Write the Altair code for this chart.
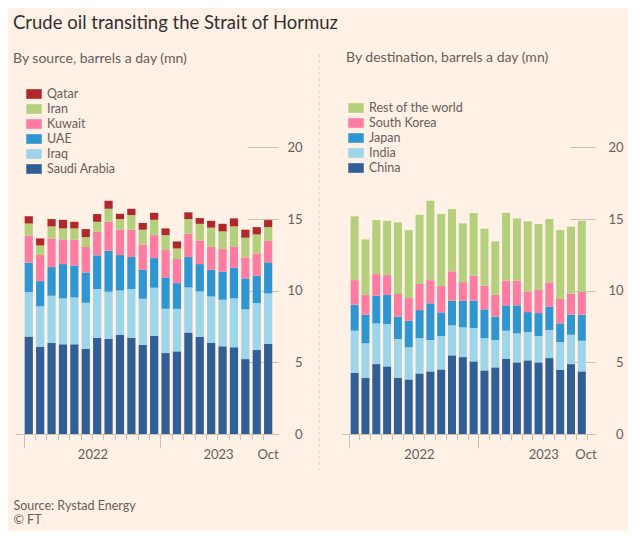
import altair as alt
import pandas as pd

months = ["Jan 2022", "Feb 2022", "Mar 2022", "Apr 2022", "May 2022", "Jun 2022",
          "Jul 2022", "Aug 2022", "Sep 2022", "Oct 2022", "Nov 2022", "Dec 2022",
          "Jan 2023", "Feb 2023", "Mar 2023", "Apr 2023", "May 2023", "Jun 2023",
          "Jul 2023", "Aug 2023", "Sep 2023", "Oct 2023"]

# By source (mn barrels a day)
saudi = [6.8, 6.07, 6.35, 6.26, 6.26, 5.93, 6.7, 6.63, 6.91, 6.72, 6.21, 6.84,
         5.65, 5.77, 7.09, 6.77, 6.35, 6.12, 6.05, 5.23, 5.86, 6.28]
iraq = [3.1, 2.84, 3.3, 3.21, 3.27, 3.23, 3.42, 3.3, 3.11, 3.4, 3.23, 3.37,
        3.09, 2.97, 3.14, 3.18, 3.25, 3.25, 3.42, 3.47, 3.28, 3.53]
uae = [2.07, 1.76, 2.0, 2.39, 2.21, 2.12, 2.35, 2.86, 2.47, 2.23, 2.03, 2.07,
       2.19, 1.79, 2.12, 1.91, 1.87, 1.96, 2.13, 2.16, 1.91, 2.17]
kuwait = [1.88, 1.82, 2.0, 1.72, 1.82, 1.77, 1.65, 2.02, 1.77, 1.91, 1.76, 1.6,
          1.91, 1.68, 1.63, 1.65, 1.58, 1.58, 1.49, 1.47, 1.55, 1.49]
iran = [0.84, 0.67, 0.84, 0.77, 0.79, 0.69, 0.69, 0.91, 0.74, 1.02, 1.03, 1.07,
        1.04, 0.74, 1.02, 1.16, 1.35, 1.23, 1.4, 1.37, 1.33, 0.97]
qatar = [0.51, 0.49, 0.51, 0.6, 0.46, 0.56, 0.54, 0.56, 0.37, 0.44, 0.46, 0.49,
         0.47, 0.49, 0.47, 0.4, 0.48, 0.53, 0.56, 0.56, 0.51, 0.49]

# By destination (mn barrels a day)
china = [4.26, 3.91, 4.88, 4.72, 3.91, 3.81, 4.23, 4.37, 4.51, 5.49, 5.37, 5.07,
         4.44, 4.65, 5.26, 5.0, 5.14, 5.0, 5.3, 4.47, 4.88, 4.37]
india = [2.95, 2.42, 2.84, 2.95, 2.72, 2.24, 2.47, 2.19, 2.33, 2.09, 2.07, 2.33,
         2.26, 1.91, 1.95, 2.02, 1.98, 1.84, 1.96, 1.95, 2.05, 2.14]
japan = [1.81, 2.0, 1.93, 2.03, 1.56, 1.86, 1.95, 2.56, 1.65, 1.72, 1.86, 1.9,
         2.0, 1.63, 1.77, 1.96, 1.39, 1.6, 1.62, 1.3, 1.4, 1.82]
skorea = [1.72, 1.37, 1.51, 1.39, 1.58, 1.58, 1.82, 1.62, 1.84, 2.05, 1.3, 1.75,
          1.65, 1.53, 1.72, 1.72, 1.44, 1.61, 1.7, 1.7, 1.48, 1.58]
rest = [4.45, 3.88, 3.77, 3.79, 5.0, 4.74, 4.83, 5.54, 5.02, 4.35, 4.1, 4.37,
        3.98, 3.72, 4.74, 4.35, 4.89, 4.6, 4.42, 4.81, 4.66, 4.97]

src_names = ["Saudi Arabia", "Iraq", "UAE", "Kuwait", "Iran", "Qatar"]
src_values = [saudi, iraq, uae, kuwait, iran, qatar]
dst_names = ["China", "India", "Japan", "South Korea", "Rest of the world"]
dst_values = [china, india, japan, skorea, rest]

y_ticks = [0, 5, 10, 15, 20]

src_colors = ["#2f5f95", "#9dd5ea", "#2e96d2", "#fe7ba2", "#b5d07d", "#b0282c"]
dst_colors = ["#2f5f95", "#9dd5ea", "#2e96d2", "#fe7ba2", "#b5d07d"]

BG = "#fff1e5"
GRAY = "#66605c"
TICK = "#ccc1b7"
FONT = "Lato"


def long_df(names, values):
    rows = []
    for k, (name, vals) in enumerate(zip(names, values)):
        for i, v in enumerate(vals):
            rows.append({"i": i, "month": months[i], "series": name,
                         "value": v, "order": k})
    return pd.DataFrame(rows)


def panel(df, names, colors, width, xdom, off, n_ticks, labels, loffsets,
          title, title_dx, legend_x, legend_y, y_off, y_tick, y_pad,
          x_title=None, divider=None):
    label_expr = " : ".join(
        f"datum.value == {v} ? '{t}'" for v, t in labels) + " : ''"
    x_axis = dict(
        orient="bottom", offset=-36, values=list(range(n_ticks)),
        tickSize={"condition": {"test": "datum.value == 0 || datum.value == 12",
                                "value": 14}, "value": 6},
        labelExpr=label_expr,
        labelOffset={"condition": [{"test": f"datum.value == {v}", "value": o}
                                   for v, o in loffsets], "value": 0},
        labelOverlap=False, labelFlush=False,
        domainColor=TICK, tickColor=TICK, labelColor=GRAY,
        labelFont=FONT, labelFontSize=13, labelPadding=8, grid=False,
    )
    if x_title is not None:
        x_axis.update(title=x_title, titleX=-3, titleY=75, titleAlign="left",
                      titleAnchor="start", titleBaseline="alphabetic",
                      titleFont=FONT, titleFontSize=12.5, titleColor=GRAY,
                      titleFontWeight="normal", titleLineHeight=14)
    else:
        x_axis["title"] = None

    bars = alt.Chart(df).transform_stack(
        stack="value", groupby=["i"], as_=["y0", "y1"],
        sort=[alt.SortField("order", order="ascending")]
    ).transform_calculate(
        x0=f"datum.i + {off[0]}", x1=f"datum.i + {off[1]}"
    ).mark_bar().encode(
        x=alt.X("x0:Q", scale=alt.Scale(domain=xdom, nice=False, zero=False),
                axis=alt.Axis(**x_axis)),
        x2="x1:Q",
        y=alt.Y("y0:Q", scale=alt.Scale(domain=[-2.51, 26.45], nice=False, zero=False),
                axis=alt.Axis(orient="right", values=y_ticks, offset=y_off,
                              tickSize=y_tick, tickColor=TICK, domain=False,
                              grid=False, labelAlign="right", labelPadding=y_pad,
                              labelColor=GRAY, labelFont=FONT, labelFontSize=13,
                              labelBaseline="middle", title=None)),
        y2="y1:Q",
        color=alt.Color("series:N",
                        scale=alt.Scale(domain=names[::-1], range=colors[::-1]),
                        legend=alt.Legend(orient="none", legendX=legend_x,
                                          legendY=legend_y, title=None,
                                          symbolType="M-1,-0.62H1V0.62H-1Z",
                                          symbolSize=240, symbolStrokeWidth=0,
                                          symbolOpacity=1, rowPadding=0,
                                          labelOffset=5, padding=0,
                                          labelFont=FONT, labelFontSize=12.5,
                                          labelColor=GRAY)),
        tooltip=["month:N", "series:N", "value:Q"],
    )
    layers = [bars]
    if divider is not None:
        rule = alt.Chart(pd.DataFrame({"a": [0]})).mark_rule(
            color="#d8cdc3", strokeDash=[3, 3], strokeWidth=1
        ).encode(x=alt.value(divider), y=alt.value(-1), y2=alt.value(415))
        layers = [rule, bars]
    return alt.layer(*layers).properties(
        width=width, height=415,
        title=alt.TitleParams(title, anchor="start", frame="group", dx=title_dx,
                              offset=-11, font=FONT, fontSize=14, color=GRAY,
                              fontWeight="normal"),
    )


left = panel(long_df(src_names, src_values), src_names, src_colors,
             width=263, xdom=[-0.66, 22.41], off=(0.1, 0.82), n_ticks=22,
             labels=[(6, "2022"), (17, "2023"), (21, "Oct")],
             loffsets=[(6, 0.5), (17, 0.7), (21, 4.6)],
             title="By source, barrels a day (mn)", title_dx=-3,
             legend_x=10, legend_y=31, y_off=-32, y_tick=31, y_pad=24,
             x_title=["Source: Rystad Energy", "© FT"])

right = panel(long_df(dst_names, dst_values), dst_names, dst_colors,
              width=253, xdom=[-0.61, 22.78], off=(0.19, 0.93), n_ticks=23,
              labels=[(6, "2022"), (18, "2023"), (21, "Oct")],
              loffsets=[(6, 5.4), (18, 0), (21, 9.7)],
              title="By destination, barrels a day (mn)", title_dx=4,
              legend_x=6, legend_y=45, y_off=-25, y_tick=25, y_pad=28,
              divider=-23)

chart = alt.hconcat(left, right, spacing=16).resolve_scale(
    color="independent", x="independent", y="independent"
).properties(
    title=alt.TitleParams("Crude oil transiting the Strait of Hormuz",
                          anchor="start", font=FONT, fontSize=18.5,
                          color="#33302e", fontWeight="normal", offset=18.5),
    background=BG,
    padding={"left": 5, "top": 5, "right": 5, "bottom": 5},
).configure_view(stroke=None)

chart.save("out.html", embed_options={"renderer": "svg", "actions": False})
